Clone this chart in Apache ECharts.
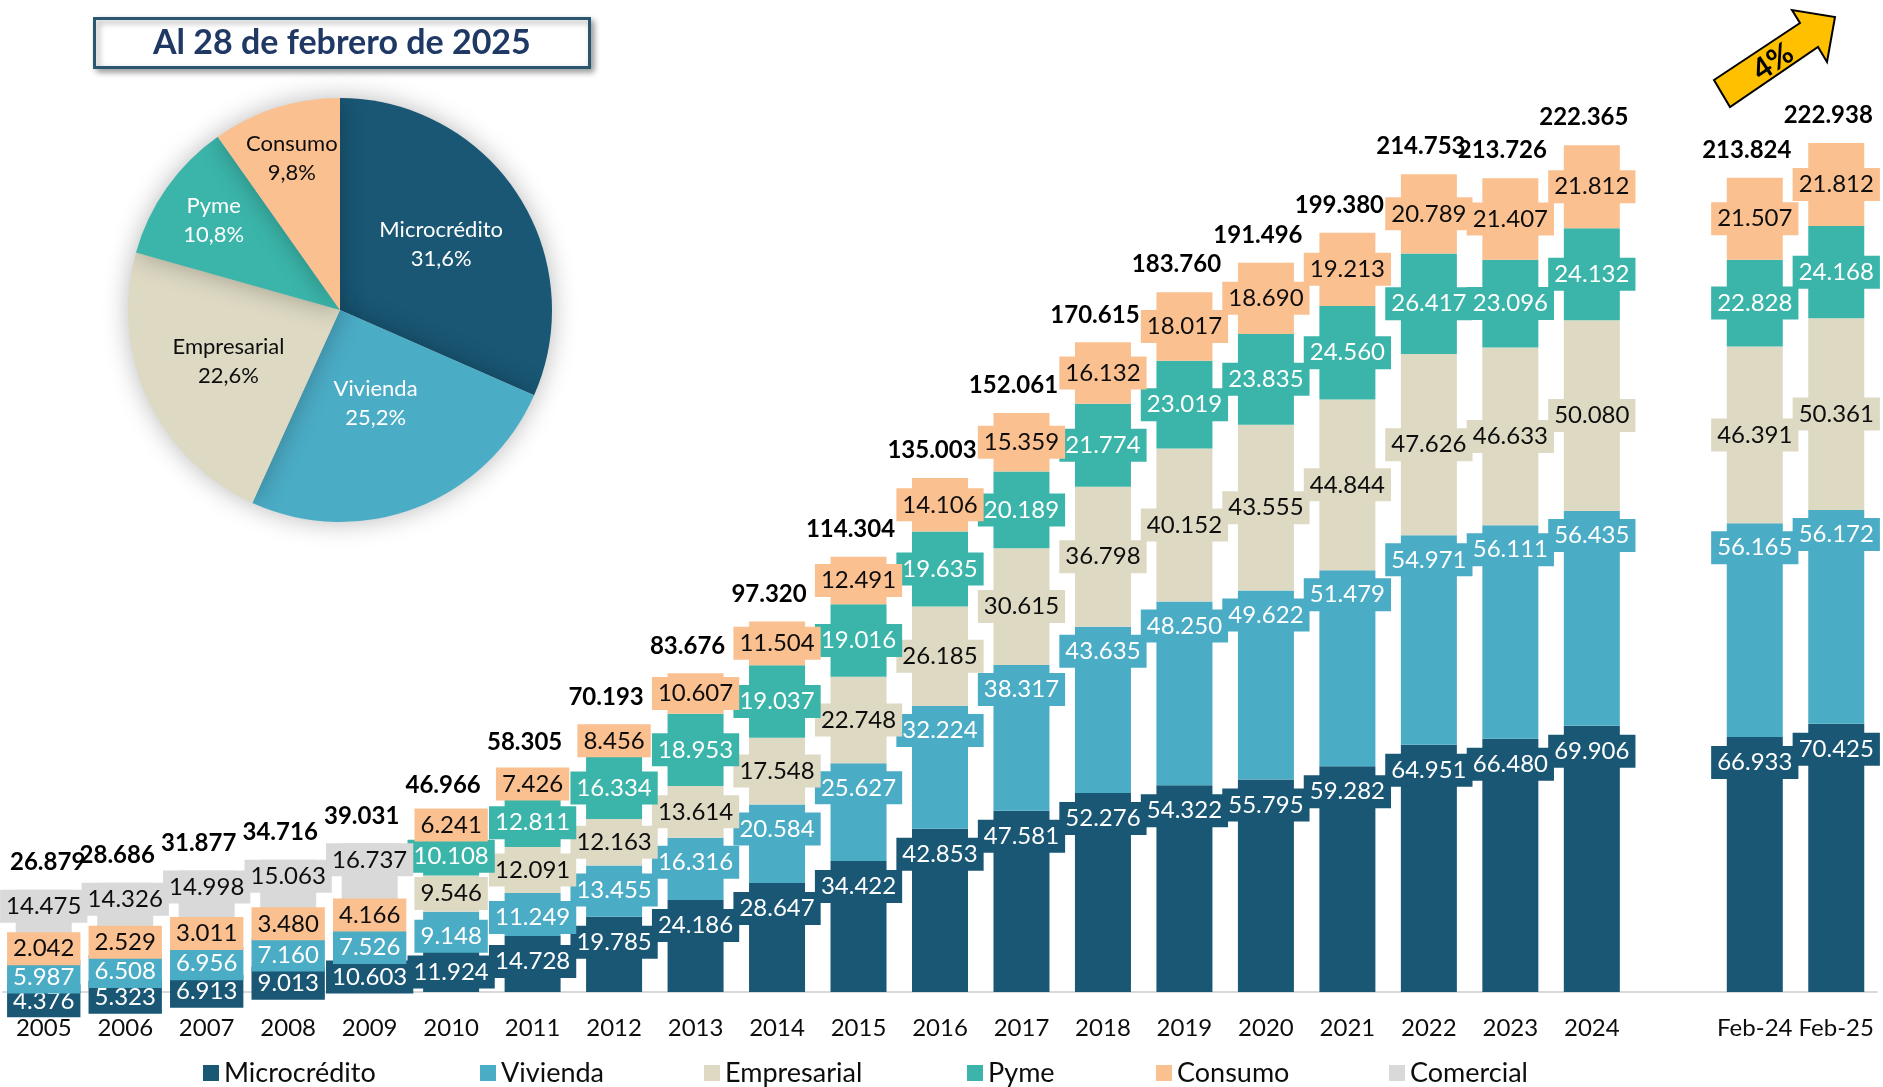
<!DOCTYPE html>
<html lang="es">
<head>
<meta charset="UTF-8">
<title>Cartera por tipo de crédito</title>
<style>
  html, body { margin: 0; padding: 0; background: #fff; }
  #chart { width: 1883px; height: 1087px; }
</style>
</head>
<body>
<div id="chart"></div>
<script src="https://cdn.jsdelivr.net/npm/echarts@6/dist/echarts.min.js"></script>
<script>
// categorías (hueco vacío entre 2024 y Feb-24)
var periodos = ['2005', '2006', '2007', '2008', '2009', '2010', '2011', '2012', '2013', '2014',
  '2015', '2016', '2017', '2018', '2019', '2020', '2021', '2022', '2023', '2024', '', 'Feb-24', 'Feb-25'];

var microcredito = [4376, 5323, 6913, 9013, 10603, 11924, 14728, 19785, 24186, 28647,
  34422, 42853, 47581, 52276, 54322, 55795, 59282, 64951, 66480, 69906, null, 66933, 70425];
var vivienda = [5987, 6508, 6956, 7160, 7526, 9148, 11249, 13455, 16316, 20584,
  25627, 32224, 38317, 43635, 48250, 49622, 51479, 54971, 56111, 56435, null, 56165, 56172];
var empresarial = [null, null, null, null, null, 9546, 12091, 12163, 13614, 17548,
  22748, 26185, 30615, 36798, 40152, 43555, 44844, 47626, 46633, 50080, null, 46391, 50361];
var pyme = [null, null, null, null, null, 10108, 12811, 16334, 18953, 19037,
  19016, 19635, 20189, 21774, 23019, 23835, 24560, 26417, 23096, 24132, null, 22828, 24168];
var consumo = [2042, 2529, 3011, 3480, 4166, 6241, 7426, 8456, 10607, 11504,
  12491, 14106, 15359, 16132, 18017, 18690, 19213, 20789, 21407, 21812, null, 21507, 21812];
var comercial = [14475, 14326, 14998, 15063, 16737, null, null, null, null, null,
  null, null, null, null, null, null, null, null, null, null, null, null, null];
var totales = [26879, 28686, 31877, 34716, 39031, 46966, 58305, 70193, 83676, 97320,
  114304, 135003, 152061, 170615, 183760, 191496, 199380, 214753, 213726, 222365, null, 213824, 222938];

var nombres = ['Microcrédito', 'Vivienda', 'Empresarial', 'Pyme', 'Consumo', 'Comercial'];
var colores = ['#195774', '#4bacc6', '#ddd9c3', '#3bb5a9', '#fac090', '#d9d9d9'];
var colorTexto = ['#fff', '#fff', '#0d0d0d', '#fff', '#0d0d0d', '#0d0d0d'];
var series_ = [microcredito, vivienda, empresarial, pyme, consumo, comercial];
// Excel: extremo interno para micro/vivienda/comercial, centrado para el resto
var posLabel = ['insideTop', 'insideTop', 'inside', 'inside', 'inside', 'insideTop'];
var distLabel = [9, 8, 5, 5, 5, 0];

var FONT = 'Lato';

function miles(v) {
  return String(v).replace(/\B(?=(\d{3})+(?!\d))/g, '.');
}

var myChart = echarts.init(document.getElementById('chart'));

var barSeries = series_.map(function (d, i) {
  return {
    name: nombres[i],
    type: 'bar',
    stack: 'cartera',
    barWidth: 56,
    data: d,
    itemStyle: { color: colores[i] },
    label: {
      show: true,
      position: posLabel[i],
      distance: distLabel[i],
      formatter: function (p) { return p.value == null ? '' : miles(p.value); },
      color: colorTexto[i],
      fontFamily: FONT,
      fontSize: 24,
      lineHeight: 25,
      backgroundColor: colores[i],
      padding: [4, 6]
    }
  };
});

// totales encima de cada columna
barSeries.push({
  name: 'Total',
  type: 'line',
  data: totales,
  symbol: 'circle',
  symbolSize: 1,
  itemStyle: { color: 'rgba(0,0,0,0)' },
  lineStyle: { opacity: 0 },
  silent: true,
  z: 5,
  label: {
    show: true,
    position: 'top',
    distance: 15,
    formatter: function (p) { return p.value == null ? '' : miles(p.value); },
    color: '#000',
    fontFamily: FONT,
    fontWeight: 'bold',
    fontSize: 24
  },
  labelLayout: function (p) {
    // leve corrimiento a la izquierda, sin salirse del borde
    return { dx: Math.max(-8, 10 - p.labelRect.x) };
  }
});

// torta con la composición a Feb-25
var ultimo = periodos.length - 1;
var pieData = nombres.slice(0, 5).map(function (n, i) {
  return {
    name: n,
    value: series_[i][ultimo],
    itemStyle: { color: colores[i] },
    label: { color: colorTexto[i] }
  };
});
var pieTotal = pieData.reduce(function (s, d) { return s + d.value; }, 0);
var pieCx = 340, pieCy = 310, pieR = 212;
var pieLabelR = [0.57, 0.47, 0.58, 0.73, 0.75];

barSeries.push({
  name: 'Composición',
  type: 'pie',
  center: [pieCx, pieCy],
  radius: pieR,
  startAngle: 90,
  clockwise: true,
  silent: true,
  z: 10,
  data: pieData,
  itemStyle: {
    shadowBlur: 26,
    shadowColor: 'rgba(0,0,0,0.28)'
  },
  label: {
    show: true,
    position: 'inside',
    fontFamily: FONT,
    fontSize: 22,
    lineHeight: 29,
    formatter: function (p) {
      return p.name + '\n' + (p.value / pieTotal * 100).toFixed(1).replace('.', ',') + '%';
    }
  },
  labelLayout: function (p) {
    var r = p.labelRect;
    var cx = r.x + r.width / 2, cy = r.y + r.height / 2;
    var dx = cx - pieCx, dy = cy - pieCy;
    var d = Math.sqrt(dx * dx + dy * dy) || 1;
    var s = pieLabelR[p.dataIndex] * pieR / d;
    return { dx: dx * (s - 1), dy: dy * (s - 1) };
  }
});

var legends = [203, 480, 704, 967, 1156, 1389].map(function (x, i) {
  return {
    data: [nombres[i]],
    left: x,
    top: 1058,
    padding: 0,
    itemWidth: 16,
    itemHeight: 16,
    icon: 'rect',
    selectedMode: false,
    textStyle: { fontFamily: FONT, fontSize: 27, color: '#0d0d0d', lineHeight: 30 }
  };
});

var option = {
  backgroundColor: '#fff',
  animation: false,
  title: {
    text: 'Al 28 de febrero de 2025',
    left: 94,
    top: 18,
    padding: [6, 59],
    backgroundColor: '#fff',
    borderColor: '#2a5670',
    borderWidth: 3,
    shadowBlur: 6,
    shadowColor: 'rgba(0,0,0,0.35)',
    shadowOffsetX: 3,
    shadowOffsetY: 3,
    textStyle: {
      fontFamily: FONT,
      fontSize: 34,
      fontWeight: 'bold',
      color: '#1f3864',
      lineHeight: 38
    }
  },
  legend: legends,
  grid: { left: 3, right: 6, top: 40, bottom: 95, containLabel: false },
  xAxis: {
    type: 'category',
    data: periodos,
    axisLine: { lineStyle: { color: '#d9d9d9', width: 2 } },
    axisTick: { show: false },
    axisLabel: {
      interval: 0,
      margin: 24,
      color: '#0d0d0d',
      fontFamily: FONT,
      fontSize: 24
    }
  },
  yAxis: {
    type: 'value',
    min: 0,
    max: 250000,
    show: false,
    splitLine: { show: false }
  },
  graphic: [
    {
      type: 'polygon',
      shape: {
        points: [[1714, 80], [1800, 23], [1792, 10], [1835, 17], [1827, 62], [1818, 47], [1730, 107]]
      },
      style: { fill: '#ffc000', stroke: '#000', lineWidth: 2 },
      z: 20
    },
    {
      type: 'text',
      x: 1773,
      y: 62,
      rotation: 34 * Math.PI / 180,
      style: {
        text: '4%',
        fill: '#000',
        font: 'bold 30px Lato',
        align: 'center',
        verticalAlign: 'middle'
      },
      z: 21
    }
  ],
  series: barSeries
};

myChart.setOption(option);
</script>
</body>
</html>
